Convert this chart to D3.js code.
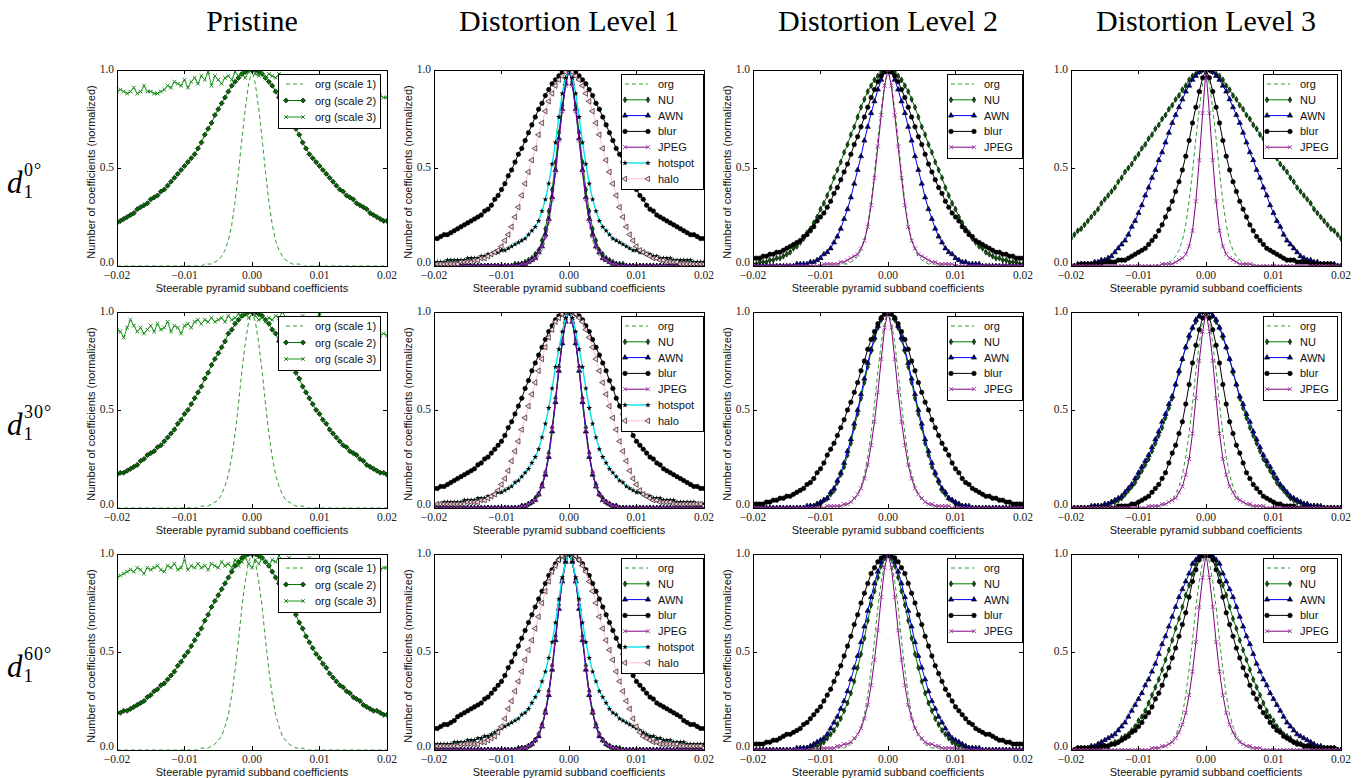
<!DOCTYPE html>
<html>
<head>
<meta charset="utf-8">
<title>Steerable pyramid subband coefficient histograms</title>
<script src="https://cdn.jsdelivr.net/npm/d3@7"></script>
<style>
  body { margin: 0; background: #fff; }
</style>
</head>
<body>
<svg id="chart" width="1371" height="778"></svg>
<script>
// histogram bins: -0.02 .. 0.02, step 0.0005
const bins = d3.range(81).map(i => -0.02 + i * 0.0005);

const colTitles = ["Pristine", "Distortion Level 1", "Distortion Level 2", "Distortion Level 3"];
const rowAngles = ["0\u00b0", "30\u00b0", "60\u00b0"];
const xTicks = [-0.02, -0.01, 0, 0.01, 0.02];
const xTickLabels = ["\u22120.02", "\u22120.01", "0.00", "0.01", "0.02"];
// counts are stored in percent of the peak
const yTicks = [0, 50, 100];
const yTickLabels = ["0.0", "0.5", "1.0"];
const pristineNames = ["org (scale 1)", "org (scale 2)", "org (scale 3)"];
const distNames = ["org", "NU", "AWN", "blur", "JPEG", "hotspot", "halo"];

// ---- d1 0 deg ----
const org_0 = [0,0,0,0,0,0,0,0,0,0, 0,0,0,0,0,0,0,0,0,0, 0,0,0,0,0,0, 1,1,1,2,3,5,8,13,21,33,48,65,80,93, 100, 93,80,65,48,33,21,13,8,5,3,2,1,1,1, 0,0,0,0,0,0, 0,0,0,0,0,0,0,0,0,0, 0,0,0,0,0,0,0,0,0,0];
const s2_0 = [22,23,24,25,26,27,29,30,31,32, 34,35,36,38,39,41,43,45,47,49, 51,53,55,57,60,63,67,70,73,77, 80,83,86,89,92,94,96,98,99,100, 100, 100,99,98,96,94,92,89,86,83,80, 77,73,70,67,63,60,57,55,53,51, 49,47,45,43,41,39,38,36,35,34, 32,31,30,29,27,26,25,24,23,23];
const s3_0 = [89,90,89,88,89,91,88,89,92,89, 89,88,88,89,90,92,91,94,93,92, 95,91,94,96,93,97,95,99,92,97, 95,93,96,97,95,99,97,98,96,99, 100, 98,97,99,96,98,97,96,98,97,96, 97,95,97,96,94,95,96,93,94,95, 94,93,95,92,93,91,92,90,91,90, 89,90,88,89,87,88,86,87,86,86];
const nu1_0 = [0,0,0,0,0,0,0,0,0,0, 0,0,0,0,0,0,0,0,0,0, 0,0,0,0, 1,1,1,2,3,4,6,8,13,19,28,39,53,68,82,94, 100, 94,82,68,53,39,28,19,13,8,6,4,3,2,1,1,1, 0,0,0,0, 0,0,0,0,0,0,0,0,0,0, 0,0,0,0,0,0,0,0,0,0];
const awn1_0 = [0,0,0,0,0,0,0,0,0,0, 0,0,0,0,0,0,0,0,0,0, 0,0,0,0,0,0, 1,1,2,3,4,7,10,16,24,35,49,65,80,93, 100, 93,80,65,49,35,24,16,10,7,4,3,2,1,1, 0,0,0,0,0,0, 0,0,0,0,0,0,0,0,0,0, 0,0,0,0,0,0,0,0,0,0];
const blur1_0 = [14,14,15,16,16,17,18,19,20,21, 22,23,24,25,26,28,29,31,34,36, 39,42,46,49,53,57,60,64,68,72, 76,80,83,87,90,93,95,97,99,100, 100, 100,99,97,95,93,90,87,83,80,76, 72,68,64,60,57,53,49,46,42,39, 36,34,31,29,28,26,25,24,23,22, 21,20,19,18,17,16,16,15,14,14];
const jpeg1_0 = [0,0,0,0,0,0,0,0,0,0, 0,0,0,0,0,0,0,0,0,0, 0,0,0,0,0,0, 1,1,2,3,4,7,10,15,23,34,48,64,79,92, 100, 92,79,64,48,34,23,15,10,7,4,3,2,1,1, 0,0,0,0,0,0, 0,0,0,0,0,0,0,0,0,0, 0,0,0,0,0,0,0,0,0,0];
const hot1_0 = [2,2,2,2,3,3,3,3,3,3, 4,4,4,4,5,5,6,6,7,7, 8,8,9,10,11,12,13,14,16,18, 20,23,28,34,42,52,63,76,88,96, 100, 96,88,76,63,52,42,34,28,23,20, 18,16,14,13,12,11,10,9,8,8, 7,7,6,6,5,5,4,4,4,4, 3,3,3,3,3,3,2,2,2,2];
const halo1_0 = [1,1,1,1,1,1,1,1,2,2, 2,2,3,3,4,4,5,6,7,8, 10,13,16,20,25,30,36,42,48,54, 60,67,73,79,84,88,92,95,97,99, 100, 99,97,95,92,88,84,79,73,67,60, 54,48,42,36,30,25,20,16,13,10, 8,7,6,5,4,4,3,3,2,2, 2,2,1,1,1,1,1,1,1,1];
const nu2_0 = [1,1,2,2,2,3,3,4,4,5, 6,7,9,10,12,14,17,19,22,25, 29,32,36,40,45,49,53,58,62,67, 71,76,81,85,89,92,95,97,99,100, 100, 100,99,97,95,92,89,85,81,76,71, 67,62,58,53,49,45,40,36,32,29, 25,22,19,17,14,12,10,9,7,6, 5,4,4,3,3,2,2,2,1,1];
const awn2_0 = [0,0,0,0,0,0,0,0,0,0, 0,0,0, 1,1,1,1,2,2,3,4,6,7,9,12,15,19,24,29,35,42,49,56,64,71,78,84,90,95,99, 100, 99,95,90,84,78,71,64,56,49,42,35,29,24,19,15,12,9,7,6,4,3,2,2,1,1,1,1, 0,0,0, 0,0,0,0,0,0,0,0,0,0];
const blur2_0 = [4,4,4,5,5,6,6,7,7,8, 9,10,11,12,13,15,16,18,20,23, 25,27,30,33,37,40,44,48,52,57, 62,66,71,76,81,86,90,94,97,99, 100, 99,97,94,90,86,81,76,71,66,62, 57,52,48,44,40,37,33,30,27,25, 23,20,18,16,15,13,12,11,10,9, 8,7,7,6,6,5,5,4,4,4];
const jpeg2_0 = [0,0,0,0,0,0,0,0,0,0, 0,0,0,0,0,0,0,0,0,0, 0, 1,1,1,1,1,2,2,3,4,5,6,9,13,20,31,45,61,77,92, 100, 92,77,61,45,31,20,13,9,6,5,4,3,2,2,1,1,1,1,1, 0, 0,0,0,0,0,0,0,0,0,0, 0,0,0,0,0,0,0,0,0,0];
const nu3_0 = [14,16,18,19,21,23,25,27,29,32, 34,36,38,40,43,45,48,50,52,55, 57,60,62,65,67,70,72,75,77,80, 82,85,87,90,92,95,97,98,99,100, 100, 100,99,98,97,95,92,90,87,85,82, 80,77,75,72,70,67,65,62,60,57, 55,52,50,48,45,43,40,38,36,34, 32,29,27,25,23,21,19,18,16,14];
const awn3_0 = [0,0,1,1,1,1,1,2,2,3, 3,4,5,7,9,11,13,16,20,23, 27,31,36,40,45,49,54,58,63,68, 73,77,81,85,89,92,95,97,99,100, 100, 100,99,97,95,92,89,85,81,77,73, 68,63,58,54,49,45,40,36,31,27, 23,20,16,13,11,9,7,5,4,3, 3,2,2,1,1,1,1,1,0,0];
const blur3_0 = [0,0,0,1,1,1,1,1,1,1, 2,2,2,2,3,3,3,4,5,6, 7,8,9,11,13,15,18,21,25,29, 33,38,43,49,56,64,73,81,89,96, 100, 96,89,81,73,64,56,49,43,38,33, 29,25,21,18,15,13,11,9,8,7, 6,5,4,3,3,3,2,2,2,2, 1,1,1,1,1,1,1,0,0,0];
const jpeg3_0 = [0,0,0,0,0,0,0,0,0,0, 0,0,0,0,0,0,0,0,0,0, 0,0,0,0,0,0,0, 1,1,1,1,2,3,4,6,10,18,33,54,78, 100, 78,54,33,18,10,6,4,3,2,1,1,1,1, 0,0,0,0,0,0,0, 0,0,0,0,0,0,0,0,0,0, 0,0,0,0,0,0,0,0,0,0];

// ---- d1 30 deg ----
const org_30 = [0,0,0,0,0,0,0,0,0,0, 0,0,0,0,0,0,0,0,0,0, 0,0,0,0,0, 1,1,1,2,3,4,7,11,17,26,38,53,70,84,95, 100, 95,84,70,53,38,26,17,11,7,4,3,2,1,1,1, 0,0,0,0,0, 0,0,0,0,0,0,0,0,0,0, 0,0,0,0,0,0,0,0,0,0];
const s2_30 = [17,18,18,19,20,21,22,24,25,27, 28,29,31,32,34,36,38,40,43,45, 48,50,53,56,59,62,66,69,73,76, 79,82,85,89,91,94,96,98,99,100, 100, 100,99,98,96,94,91,89,85,82,79, 76,73,69,66,62,59,56,53,50,48, 45,43,40,38,36,34,32,31,29,28, 27,25,24,22,21,20,19,18,18,17];
const s3_30 = [91,90,87,92,96,93,90,92,89,91, 93,90,94,91,92,95,90,93,92,89, 93,94,92,95,96,94,96,95,97,95, 96,97,95,98,96,97,99,98,100,97, 99, 98,96,97,95,97,96,98,97,100,97, 96,97,96,95,98,97,96,95,96,100, 95,94,96,95,94,93,95,94,93,92, 93,91,92,90,91,89,90,88,89,88];
const nu1_30 = [0,0,0,0,0,0,0,0,0,0, 0,0,0,0,0,0,0,0,0,0, 0,0,0,0,0,0, 1,1,2,3,5,7,12,18,28,41,56,72,85,96, 100, 96,85,72,56,41,28,18,12,7,5,3,2,1,1, 0,0,0,0,0,0, 0,0,0,0,0,0,0,0,0,0, 0,0,0,0,0,0,0,0,0,0];
const awn1_30 = [0,0,0,0,0,0,0,0,0,0, 0,0,0,0,0,0,0,0,0,0, 0,0,0,0,0,0, 1,1,2,3,4,7,11,17,26,39,54,70,84,95, 100, 95,84,70,54,39,26,17,11,7,4,3,2,1,1, 0,0,0,0,0,0, 0,0,0,0,0,0,0,0,0,0, 0,0,0,0,0,0,0,0,0,0];
const blur1_30 = [10,10,11,11,12,13,14,15,16,17, 18,19,20,22,23,25,26,28,30,32, 34,37,41,44,48,52,56,61,65,70, 74,78,82,86,90,93,96,98,99,100, 100, 100,99,98,96,93,90,86,82,78,74, 70,65,61,56,52,48,44,41,37,34, 32,30,28,26,25,23,22,20,19,18, 17,16,15,14,13,12,11,11,10,10];
const jpeg1_30 = [0,0,0,0,0,0,0,0,0,0, 0,0,0,0,0,0,0,0,0,0, 0,0,0,0,0,0, 1,1,2,3,4,7,11,18,27,40,55,71,85,95, 100, 95,85,71,55,40,27,18,11,7,4,3,2,1,1, 0,0,0,0,0,0, 0,0,0,0,0,0,0,0,0,0, 0,0,0,0,0,0,0,0,0,0];
const hot1_30 = [2,2,2,3,3,3,3,3,3,4, 4,4,4,5,5,5,6,6,7,8, 8,9,10,11,13,14,16,18,20,23, 26,30,36,43,51,61,72,81,90,97, 100, 97,90,81,72,61,51,43,36,30,26, 23,20,18,16,14,13,11,10,9,8, 8,7,6,6,5,5,5,4,4,4, 4,3,3,3,3,3,3,2,2,2];
const halo1_30 = [1,2,2,2,2,2,2,2,2,2, 3,3,3,3,4,4,5,6,7,9, 12,15,19,24,29,34,40,46,52,58, 64,70,76,82,87,91,95,97,99,100, 100, 100,99,97,95,91,87,82,76,70,64, 58,52,46,40,34,29,24,19,15,12, 9,7,6,5,4,4,3,3,3,3, 2,2,2,2,2,2,2,2,2,1];
const nu2_30 = [0,0,0,0,0,0,0,0,0,0, 0,0,0,0,0,0,0, 1,1,2,2,4,5,7,9,13,17,21,27,33,41,48,56,64,72,80,86,92,96,99, 100, 99,96,92,86,80,72,64,56,48,41,33,27,21,17,13,9,7,5,4,2,2,1,1, 0,0,0,0,0,0,0, 0,0,0,0,0,0,0,0,0,0];
const awn2_30 = [0,0,0,0,0,0,0,0,0,0, 0,0,0,0,0,0, 1,1,1,2,3,4,5,8,10,14,18,23,29,35,43,50,58,66,74,81,87,93,97,99, 100, 99,97,93,87,81,74,66,58,50,43,35,29,23,18,14,10,8,5,4,3,2,1,1,1, 0,0,0,0,0,0, 0,0,0,0,0,0,0,0,0,0];
const blur2_30 = [2,2,2,2,3,3,4,4,5,5, 6,6,7,8,9,10,12,13,15,18, 20,23,27,30,33,37,41,45,50,54, 59,64,70,75,81,86,90,94,97,99, 100, 99,97,94,90,86,81,75,70,64,59, 54,50,45,41,37,33,30,27,23,20, 18,15,13,12,10,9,8,7,6,6, 5,5,4,4,3,3,2,2,2,2];
const jpeg2_30 = [0,0,0,0,0,0,0,0,0,0, 0,0,0,0,0,0,0,0,0,0, 0,0, 1,1,1,1,1,2,2,3,5,7,10,15,22,32,44,59,76,92, 100, 92,76,59,44,32,22,15,10,7,5,3,2,2,1,1,1,1,1, 0,0, 0,0,0,0,0,0,0,0,0,0, 0,0,0,0,0,0,0,0,0,0];
const nu3_30 = [0,0,0,0,0,0,0, 1,1,1,1,2,3,3,4,5,7,9,11,13,16,19,22,25,29,33,37,41,46,51,56,63,69,76,82,87,92,95,98,100, 100, 100,98,95,92,87,82,76,69,63,56,51,46,41,37,33,29,25,22,19,16,13,11,9,7,5,4,3,3,2,1,1,1,1, 0,0,0,0,0,0,0];
const awn3_30 = [0,0,0,0,0,0, 1,1,1,1,2,2,3,4,5,6,8,10,12,15,18,21,24,27,31,35,39,44,48,53,57,63,70,76,82,88,92,96,98,100, 100, 100,98,96,92,88,82,76,70,63,57,53,48,44,39,35,31,27,24,21,18,15,12,10,8,6,5,4,3,2,2,1,1,1,1, 0,0,0,0,0,0];
const blur3_30 = [0,0,0,0,0,0,0,0,0,0, 0,0,0,0, 1,1,1,1,2,2,3,4,5,6,8,10,12,15,18,23,28,32,38,44,53,63,74,83,91,97, 100, 97,91,83,74,63,53,44,38,32,28,23,18,15,12,10,8,6,5,4,3,2,2,1,1,1,1, 0,0,0,0, 0,0,0,0,0,0,0,0,0,0];
const jpeg3_30 = [0,0,0,0,0,0,0,0,0,0, 0,0,0,0,0,0,0,0,0,0, 0,0,0, 1,1,1,1,2,2,3,4,5,8,11,17,25,38,56,75,90, 100, 90,75,56,38,25,17,11,8,5,4,3,2,2,1,1,1,1, 0,0,0, 0,0,0,0,0,0,0,0,0,0, 0,0,0,0,0,0,0,0,0,0];

// ---- d1 60 deg ----
const org_60 = [0,0,0,0,0,0,0,0,0,0, 0,0,0,0,0,0,0,0,0,0, 0,0,0,0,0, 1,1,1,2,3,5,7,12,18,28,41,56,73,86,96, 100, 96,86,73,56,41,28,18,12,7,5,3,2,1,1,1, 0,0,0,0,0, 0,0,0,0,0,0,0,0,0,0, 0,0,0,0,0,0,0,0,0,0];
const s2_60 = [19,19,20,20,21,22,23,24,25,27, 28,30,31,33,34,36,38,40,43,45, 48,50,53,56,59,62,66,69,73,76, 79,82,85,88,91,94,96,98,99,100, 100, 100,99,98,96,94,91,88,85,82,79, 76,72,69,65,62,58,55,52,49,47, 44,42,39,37,35,33,32,30,29,27, 26,25,23,22,21,20,20,19,18,18];
const s3_60 = [88,89,90,91,92,91,93,92,90,93, 92,93,94,92,91,94,93,95,92,93, 97,92,94,93,95,93,94,92,95,94, 93,96,94,95,93,97,94,96,98,95, 93, 97,95,98,96,94,97,96,99,97,95, 98,96,95,97,94,96,98,95,97,96, 94,96,95,97,93,95,96,94,96,93, 95,93,94,93,92,94,93,92,93,93];
const nu1_60 = [0,0,0,0,0,0,0,0,0,0, 0,0,0,0,0,0,0,0,0,0, 0,0,0,0,0, 1,1,1,2,3,5,8,13,20,30,43,58,74,87,97, 100, 97,87,74,58,43,30,20,13,8,5,3,2,1,1,1, 0,0,0,0,0, 0,0,0,0,0,0,0,0,0,0, 0,0,0,0,0,0,0,0,0,0];
const awn1_60 = [0,0,0,0,0,0,0,0,0,0, 0,0,0,0,0,0,0,0,0,0, 0,0,0,0,0,0, 1,1,2,3,5,7,12,19,28,41,56,72,86,96, 100, 96,86,72,56,41,28,19,12,7,5,3,2,1,1, 0,0,0,0,0,0, 0,0,0,0,0,0,0,0,0,0, 0,0,0,0,0,0,0,0,0,0];
const blur1_60 = [11,11,12,13,13,14,15,17,18,19, 20,21,22,23,24,26,27,29,31,33, 35,38,42,45,49,53,57,61,65,69, 73,77,81,85,89,92,95,97,99,100, 100, 100,99,97,95,92,89,85,81,77,73, 69,65,61,57,53,49,45,42,38,35, 33,31,29,27,26,24,23,22,21,20, 19,18,17,15,14,13,13,12,11,11];
const jpeg1_60 = [0,0,0,0,0,0,0,0,0,0, 0,0,0,0,0,0,0,0,0,0, 0,0,0,0,0,0, 1,1,2,3,5,8,12,19,29,42,57,73,86,96, 100, 96,86,73,57,42,29,19,12,8,5,3,2,1,1, 0,0,0,0,0,0, 0,0,0,0,0,0,0,0,0,0, 0,0,0,0,0,0,0,0,0,0];
const hot1_60 = [3,3,3,3,3,3,4,4,4,4, 5,5,5,6,6,7,7,8,9,10, 11,12,13,14,15,16,18,19,21,24, 27,30,35,40,47,55,65,77,88,96, 100, 96,88,77,65,55,47,40,35,30,27, 24,21,19,18,16,15,14,13,12,11, 10,9,8,7,7,6,6,5,5,5, 4,4,4,4,3,3,3,3,3,3];
const halo1_60 = [1,2,2,2,2,2,2,2,3,3, 3,3,3,3,4,4,5,6,7,9, 12,16,21,25,30,35,40,46,51,56, 62,68,75,81,86,91,94,97,99,100, 100, 100,99,97,94,91,86,81,75,68,62, 56,51,46,40,35,30,25,21,16,12, 9,7,6,5,4,4,3,3,3,3, 3,3,2,2,2,2,2,2,2,1];
const nu2_60 = [0,0,0,0,0,0,0,0,0,0, 0,0,0,0,0, 1,1,1,2,2,3,4,6,8,10,13,16,20,24,29,35,42,49,57,66,74,81,88,94,98, 100, 98,94,88,81,74,66,57,49,42,35,29,24,20,16,13,10,8,6,4,3,2,2,1,1,1, 0,0,0,0,0, 0,0,0,0,0,0,0,0,0,0];
const awn2_60 = [0,0,0,0,0,0,0,0,0,0, 0,0,0, 1,1,1,1,2,3,4,5,6,8,11,14,17,21,25,30,36,42,48,55,63,71,78,85,91,96,99, 100, 99,96,91,85,78,71,63,55,48,42,36,30,25,21,17,14,11,8,6,5,4,3,2,1,1,1,1, 0,0,0, 0,0,0,0,0,0,0,0,0,0];
const blur2_60 = [3,3,3,3,4,4,5,5,6,7, 8,8,9,10,11,13,14,16,18,20, 22,25,28,31,35,39,43,48,53,58, 64,69,75,80,85,90,93,96,98,100, 100, 100,98,96,93,90,85,80,75,69,64, 58,53,48,43,39,35,31,28,25,22, 20,18,16,14,13,11,10,9,8,8, 7,6,5,5,4,4,3,3,3,3];
const jpeg2_60 = [0,0,0,0,0,0,0,0,0,0, 0,0,0,0,0,0,0,0,0,0, 1,1,1,1,1,2,2,3,3,4,6,8,11,16,23,33,46,61,78,93, 100, 93,78,61,46,33,23,16,11,8,6,4,3,3,2,2,1,1,1,1,1, 0,0,0,0,0,0,0,0,0,0, 0,0,0,0,0,0,0,0,0,0];
const nu3_60 = [0,0,0,0,0, 1,1,1,1,1,2,2,3,4,4,6,7,8,10,12,15,17,20,24,28,32,36,41,46,51,56,62,67,73,79,84,90,95,98,100, 100, 100,98,95,90,84,79,73,67,62,56,51,46,41,36,32,28,24,20,17,15,12,10,8,7,6,4,4,3,2,2,1,1,1,1,1, 0,0,0,0,0];
const awn3_60 = [0,0,1,1,1,1,2,2,3,4, 5,6,7,8,10,12,14,17,20,23, 26,29,33,36,40,44,49,54,58,63, 68,73,78,82,86,90,95,97,99,100, 100, 100,99,97,95,90,86,82,78,73,68, 63,58,54,49,44,40,36,33,29,26, 23,20,17,14,12,10,8,7,6,5, 4,3,2,2,1,1,1,1,0,0];
const blur3_60 = [0,0,1,1,1,1,1,1,1,2, 2,2,3,3,4,5,6,7,9,10, 12,14,17,19,22,26,29,33,38,42, 47,52,58,64,70,78,86,92,97,99, 100, 99,97,92,86,78,70,64,58,52,47, 42,38,33,29,26,22,19,17,14,12, 10,9,7,6,5,4,3,3,2,2, 2,1,1,1,1,1,1,1,0,0];
const jpeg3_60 = [0,0,0,0,0,0,0,0,0,0, 0,0,0,0,0,0,0,0,0,0, 0,0,0,0, 1,1,1,2,2,3,4,6,9,13,19,28,40,55,73,88, 100, 88,73,55,40,28,19,13,9,6,4,3,2,2,1,1,1, 0,0,0,0, 0,0,0,0,0,0,0,0,0,0, 0,0,0,0,0,0,0,0,0,0];

const grid = [
  [[org_0, s2_0, s3_0], [org_0, nu1_0, awn1_0, blur1_0, jpeg1_0, hot1_0, halo1_0], [org_0, nu2_0, awn2_0, blur2_0, jpeg2_0], [org_0, nu3_0, awn3_0, blur3_0, jpeg3_0]],
  [[org_30, s2_30, s3_30], [org_30, nu1_30, awn1_30, blur1_30, jpeg1_30, hot1_30, halo1_30], [org_30, nu2_30, awn2_30, blur2_30, jpeg2_30], [org_30, nu3_30, awn3_30, blur3_30, jpeg3_30]],
  [[org_60, s2_60, s3_60], [org_60, nu1_60, awn1_60, blur1_60, jpeg1_60, hot1_60, halo1_60], [org_60, nu2_60, awn2_60, blur2_60, jpeg2_60], [org_60, nu3_60, awn3_60, blur3_60, jpeg3_60]]
];

// layout
const colX = [117, 434, 753, 1071], rowY = [70, 312, 554], W = 270, H = 196;
const legendW = [102, 82, 75, 74], legendGap = [7, 1, 1, 4];
const sampleX = [[8, 25], [4, 27], [4, 27], [4, 27]];
const serif = "'Liberation Serif', 'DejaVu Serif', serif";
const sans = "'Liberation Sans', Arial, sans-serif";

const styles = {
  "org (scale 1)": { line: "#2f9a2f", dash: "4,3" },
  "org (scale 2)": { line: "#008000", sym: "D", fill: "#006a00", edge: "#000", size: 13 },
  "org (scale 3)": { line: "#1f961f", sym: "x", fill: "#138a13", size: 1.8 },
  "org": { line: "#2f9a2f", dash: "4,3" },
  "NU": { line: "#008000", sym: "thin", fill: "#0a5a0a", edge: "#000", size: 10 },
  "AWN": { line: "#0000ff", sym: "tri", fill: "#00008b", edge: "#000", size: 12 },
  "blur": { line: "#000", sym: "o", fill: "#000", edge: "#000", size: 16 },
  "JPEG": { line: "#800080", sym: "x", fill: "#a040a0", size: 2 },
  "hotspot": { line: "#00e5ee", sym: "star", fill: "#000", size: 10, width: 1.4 },
  "halo": { line: "#ffc0cb", sym: "left", fill: "#ffd0d8", edge: "#000", size: 13 }
};

function markerPath(st) {
  if (st.sym === "x") {
    const s = st.size;
    return `M${-s},${-s}L${s},${s}M${-s},${s}L${s},${-s}`;
  }
  const type = { D: d3.symbolSquare, thin: d3.symbolDiamond, tri: d3.symbolTriangle,
                 o: d3.symbolCircle, star: d3.symbolStar, left: d3.symbolTriangle }[st.sym];
  return d3.symbol(type, st.size)();
}
const markerRot = st => st.sym === "D" ? 45 : st.sym === "left" ? -90 : 0;

function styleMarker(sel, st) {
  if (st.sym === "x") sel.attr("fill", "none").attr("stroke", st.fill).attr("stroke-width", 1);
  else sel.attr("fill", st.fill).attr("stroke", st.edge || "none").attr("stroke-width", 0.6);
}

const svg = d3.select("#chart");
svg.append("rect").attr("width", 1371).attr("height", 778).attr("fill", "#fff");
const defs = svg.append("defs");

// column titles
colTitles.forEach((t, c) => {
  svg.append("text").attr("x", colX[c] + W / 2).attr("y", 31)
    .attr("text-anchor", "middle").attr("font-family", serif).attr("font-size", 30)
    .text(t);
});

// row labels d_1^{angle}: subscript and superscript stacked right of the d
rowAngles.forEach((a, r) => {
  const base = rowY[r] + 122.5;
  svg.append("text").attr("x", 7).attr("y", base).attr("font-family", serif)
    .attr("font-style", "italic").attr("font-size", 31).text("d");
  svg.append("text").attr("x", 23.5).attr("y", base + 5).attr("font-family", serif)
    .attr("font-size", 19).text("1");
  svg.append("text").attr("x", 24).attr("y", base - 17).attr("font-family", serif)
    .attr("font-size", 18).attr("letter-spacing", 1).text(a);
});

// the last column's y-axis title is partly hidden by the panel to its left
defs.append("clipPath").attr("id", "ylab-clip").append("rect")
  .attr("x", 1044).attr("y", 0).attr("width", 40).attr("height", 778);

grid.forEach((rowPanels, r) => {
  rowPanels.forEach((series, c) => {
    const names = c === 0 ? pristineNames : distNames.slice(0, series.length);
    const x0 = colX[c], y0 = rowY[r];
    const x = d3.scaleLinear().domain([-0.02, 0.02]).range([x0, x0 + W]);
    const y = d3.scaleLinear().domain([0, 100]).range([y0 + H, y0]);
    const g = svg.append("g");

    const clipId = `clip-${r}-${c}`;
    defs.append("clipPath").attr("id", clipId).append("rect")
      .attr("x", x0).attr("y", y0).attr("width", W).attr("height", H);
    const plot = g.append("g").attr("clip-path", `url(#${clipId})`);
    const line = d3.line().x((v, i) => x(bins[i])).y(v => y(v));

    series.forEach((vals, k) => {
      if (vals.length !== bins.length) console.error("length", r, c, k, vals.length);
      const st = styles[names[k]];
      plot.append("path").datum(vals).attr("d", line)
        .attr("fill", "none").attr("stroke", st.line)
        .attr("stroke-width", st.width || 1)
        .attr("stroke-dasharray", st.dash || null);
      if (st.sym) {
        const m = plot.append("g").selectAll("path").data(vals).join("path")
          .attr("d", markerPath(st))
          .attr("transform", (v, i) => `translate(${x(bins[i])},${y(v)}) rotate(${markerRot(st)})`);
        styleMarker(m, st);
      }
    });

    // frame and inward ticks on all four sides
    const ax = g.append("g").attr("stroke", "#000").attr("shape-rendering", "crispEdges");
    ax.append("rect").attr("x", x0).attr("y", y0).attr("width", W).attr("height", H).attr("fill", "none");
    xTicks.forEach(t => {
      ax.append("line").attr("x1", x(t)).attr("x2", x(t)).attr("y1", y0 + H).attr("y2", y0 + H - 4);
      ax.append("line").attr("x1", x(t)).attr("x2", x(t)).attr("y1", y0).attr("y2", y0 + 4);
    });
    yTicks.forEach(t => {
      ax.append("line").attr("x1", x0).attr("x2", x0 + 4).attr("y1", y(t)).attr("y2", y(t));
      ax.append("line").attr("x1", x0 + W).attr("x2", x0 + W - 4).attr("y1", y(t)).attr("y2", y(t));
    });

    // tick labels (the bottom y label sits a little higher to clear the x labels)
    xTicks.forEach((t, i) => {
      g.append("text").attr("x", x(t)).attr("y", y0 + H + 13)
        .attr("text-anchor", "middle").attr("font-family", serif).attr("font-size", 11.5)
        .attr("fill", "#222").text(xTickLabels[i]);
    });
    yTicks.forEach((t, i) => {
      g.append("text").attr("x", x0 - 3).attr("y", y(t) + (t === 0 ? 0 : 3))
        .attr("text-anchor", "end").attr("font-family", serif).attr("font-size", 11.5)
        .attr("fill", "#222").text(yTickLabels[i]);
    });

    // axis titles
    g.append("text").attr("x", x0 + W / 2).attr("y", y0 + H + 25.5)
      .attr("text-anchor", "middle").attr("font-family", sans).attr("font-size", 11)
      .attr("fill", "#111").text("Steerable pyramid subband coefficients");
    g.append("text")
      .attr("transform", `translate(${x0 - 22},${y0 + H / 2 + 4}) rotate(-90)`)
      .attr("clip-path", c === 3 ? "url(#ylab-clip)" : null)
      .attr("text-anchor", "middle").attr("font-family", sans).attr("font-size", 11)
      .attr("fill", "#111").text("Number of coefficients (normalized)");

    // legend
    const sp = c === 0 ? 16.5 : 15.8;
    const lw = legendW[c], lh = 21 + (names.length - 1) * sp;
    const lx = x0 + W - legendGap[c] - lw, ly = y0 + 4;
    const lg = g.append("g");
    lg.append("rect").attr("x", lx).attr("y", ly).attr("width", lw).attr("height", lh)
      .attr("fill", "#fff").attr("stroke", "#000").attr("shape-rendering", "crispEdges");
    names.forEach((nm, k) => {
      const st = styles[nm];
      const cy = ly + 10 + k * sp;
      const [a, b] = sampleX[c];
      lg.append("line").attr("x1", lx + a).attr("x2", lx + b).attr("y1", cy).attr("y2", cy)
        .attr("stroke", st.line).attr("stroke-width", st.width || 1)
        .attr("stroke-dasharray", st.dash || null);
      if (st.sym) {
        [lx + a, lx + b].forEach(px => {
          const m = lg.append("path").attr("d", markerPath(st))
            .attr("transform", `translate(${px},${cy}) rotate(${markerRot(st)})`);
          styleMarker(m, st);
        });
      }
      lg.append("text").attr("x", lx + 37).attr("y", cy + 4)
        .attr("font-family", sans).attr("font-size", 11).attr("fill", "#111").text(nm);
    });
  });
});
</script>
</body>
</html>
